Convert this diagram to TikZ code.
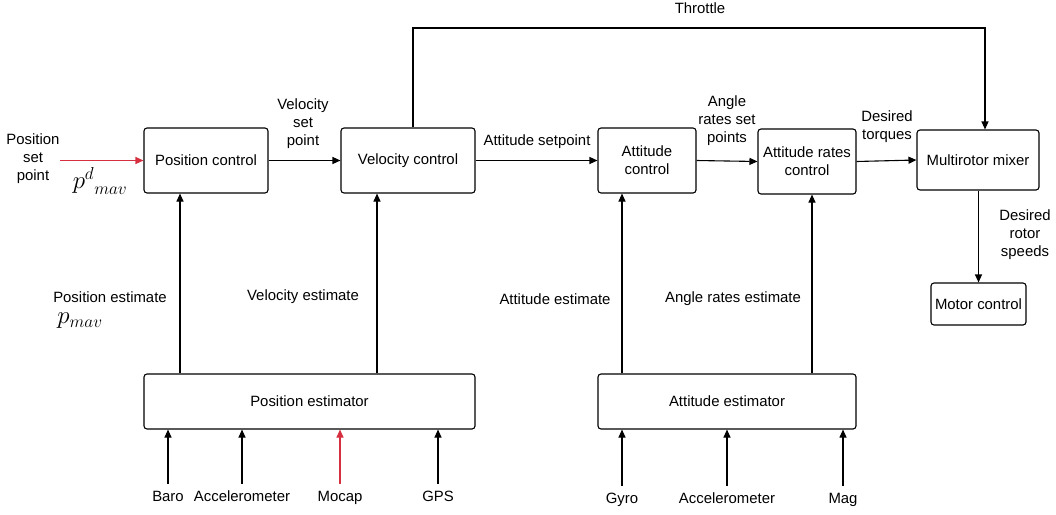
\documentclass[tikz,border=0pt]{standalone}
\usepackage{fontspec}
\setmainfont{Liberation Sans}
\usepackage{amsmath}
\usepackage{tikz}
\usetikzlibrary{arrows.meta}
\usetikzlibrary{calc}
\definecolor{setred}{RGB}{214,48,64}
\newcommand{\txtfont}{\fontsize{14.9}{18}\selectfont}
\newcommand{\mathfnt}{\fontsize{24}{28}\selectfont}
\tikzset{
	blk/.style={draw, rounded corners=3pt, line width=1.1pt, align=center, font=\txtfont, inner sep=2pt},
	lbl/.style={align=center, font=\txtfont, inner sep=0pt},
	sens/.style={font=\txtfont, inner sep=0pt, text height=10.5pt, text depth=3pt},
}

\begin{document}
\begin{tikzpicture}[x=1pt, y=-1pt, >={Triangle[length=8pt,width=7pt]}, line width=1.1pt]
\useasboundingbox (0,0) rectangle (1056,514);
% control chain
\node[blk, minimum width=124pt, minimum height=65pt] (posctl) at (206,160.5) {Position control};
\node[blk, minimum width=134pt, minimum height=65pt] (velctl) at (408,160.5) {Velocity control};
\node[blk, minimum width=98pt, minimum height=65pt] (attctl) at (647,160.5) {Attitude\\control};
\node[blk, minimum width=98pt, minimum height=65pt] (ratectl) at (807,161.5) {Attitude rates\\control};
\node[blk, minimum width=122pt, minimum height=60pt] (mixer) at (978,160) {Multirotor mixer};
\node[blk, minimum width=95pt, minimum height=42pt] (motor) at (978.5,304) {Motor control};
% estimators
\node[blk, minimum width=331pt, minimum height=55pt] (posest) at (309.5,401.5) {Position estimator};
\node[blk, minimum width=258pt, minimum height=55pt] (attest) at (727,401.5) {Attitude estimator};

% sensors
\node[sens] (baro) at (168,498) {Baro};
\node[sens] (accl) at (242,498) {Accelerometer};
\node[sens] (mocap) at (340,498) {Mocap};
\node[sens] (gps) at (438,498) {GPS};
\node[sens] (gyro) at (622,500) {Gyro};
\node[sens] (accr) at (727,500) {Accelerometer};
\node[sens] (mag) at (843,500) {Mag};

% labels
\node[lbl] (posset) at (33,159) {Position\\set\\point};
\node[inner sep=0pt, font=\mathfnt] (pd) at (100,181) {${p^d}_{mav}$};
\node[lbl] (velset) at (303,124) {Velocity\\set\\point};
\node[lbl] (attset) at (537,142) {Attitude setpoint};
\node[lbl] (rateset) at (727,121) {Angle\\rates set\\points};
\node[lbl] (torq) at (887,127) {Desired\\torques};
\node[lbl] (thr) at (700,8) {Throttle};
\node[lbl] (speeds) at (1025,235) {Desired\\rotor\\speeds};
\node[lbl] (posestl) at (110,297) {Position estimate};
\node[inner sep=0pt, font=\mathfnt] (pm) at (80,321) {$p_{mav}$};
\node[lbl] (velestl) at (303,297) {Velocity estimate};
\node[lbl] (attestl) at (555,299) {Attitude estimate};
\node[lbl] (rateestl) at (733,299) {Angle rates estimate};

\coordinate (thrtop) at (700,28);

\path[->]
(posctl) edge (velctl)
(velctl) edge (attctl)
(attctl.east) edge (ratectl.west)
(ratectl.east) edge (mixer.west)
(mixer.south -| motor.north) edge (motor.north);
\path[->, setred]
(posset.east |- posctl.west) edge (posctl.west);
\draw[->] ([xshift=5pt]velctl.north) |- (thrtop) -| ([xshift=7pt]mixer.north);

% estimates up to the controllers
\path[->]
(posest.north -| 180,0) edge (posctl.south -| 180,0)
(posest.north -| 377,0) edge (velctl.south -| 377,0)
(attest.north -| 622,0) edge (attctl.south -| 622,0)
(attest.north -| 812,0) edge (ratectl.south -| 812,0);

% sensors into estimators
\path[->]
([yshift=7pt]baro.north) edge (baro |- posest.south)
([yshift=7pt]accl.north) edge (accl |- posest.south)
([yshift=7pt]gps.north) edge (gps |- posest.south)
([yshift=7pt]gyro.north) edge (gyro |- attest.south)
([yshift=7pt]accr.north) edge (accr |- attest.south)
([yshift=7pt]mag.north) edge (mag |- attest.south);
\path[->, setred]
([yshift=7pt]mocap.north) edge (mocap |- posest.south);
\end{tikzpicture}
\end{document}
